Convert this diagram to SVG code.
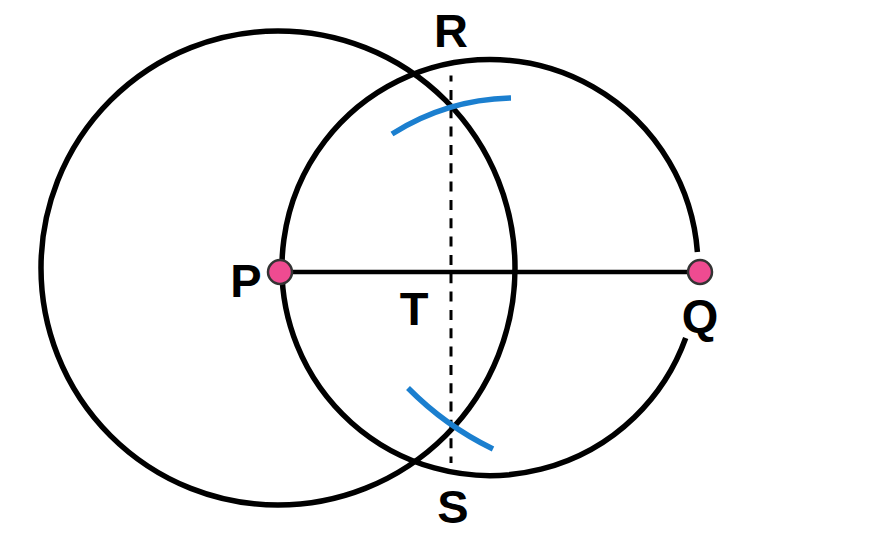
<svg xmlns="http://www.w3.org/2000/svg" width="887" height="544" viewBox="0 0 887 544">
<style>
.c{fill:none;stroke:#000;stroke-width:5.5}
.arc{fill:none;stroke:#1b7fcf;stroke-width:5.5}
.dot{fill:#ef4b91;stroke:#333;stroke-width:2.5}
.lbl{font-family:"Liberation Sans",Arial,sans-serif;font-weight:bold;font-size:47px;fill:#000;text-anchor:middle}
</style>
<rect width="887" height="544" fill="#fff"/>
<g id="connectors">
<circle id="circleP" class="c" cx="278" cy="268" r="237"/>
<path id="circlePQ" class="c" d="M697.4 252 A208 208 0 1 0 685.7 338"/>
<line id="segPQ" x1="280" y1="272" x2="700" y2="272" stroke="#000" stroke-width="4.5"/>
<line id="bisector" x1="451" y1="75.6" x2="451" y2="463" stroke="#000" stroke-width="3" stroke-dasharray="10 8.33" stroke-dashoffset="4"/>
<path id="arcTop" class="arc" d="M392 134 A232 232 0 0 1 511 98"/>
<path id="arcBottom" class="arc" d="M408 388 A310 310 0 0 0 493 449"/>
</g>
<g id="nodeP"><circle class="dot" cx="280" cy="272" r="12"/><text class="lbl" x="246" y="297">P</text></g>
<g id="nodeQ"><circle class="dot" cx="700" cy="272" r="12"/><text class="lbl" x="700" y="332">Q</text></g>
<g id="nodeR"><text class="lbl" x="451" y="47">R</text></g>
<g id="nodeS"><text class="lbl" x="453" y="523">S</text></g>
<g id="nodeT"><text class="lbl" x="414" y="325">T</text></g>
</svg>
